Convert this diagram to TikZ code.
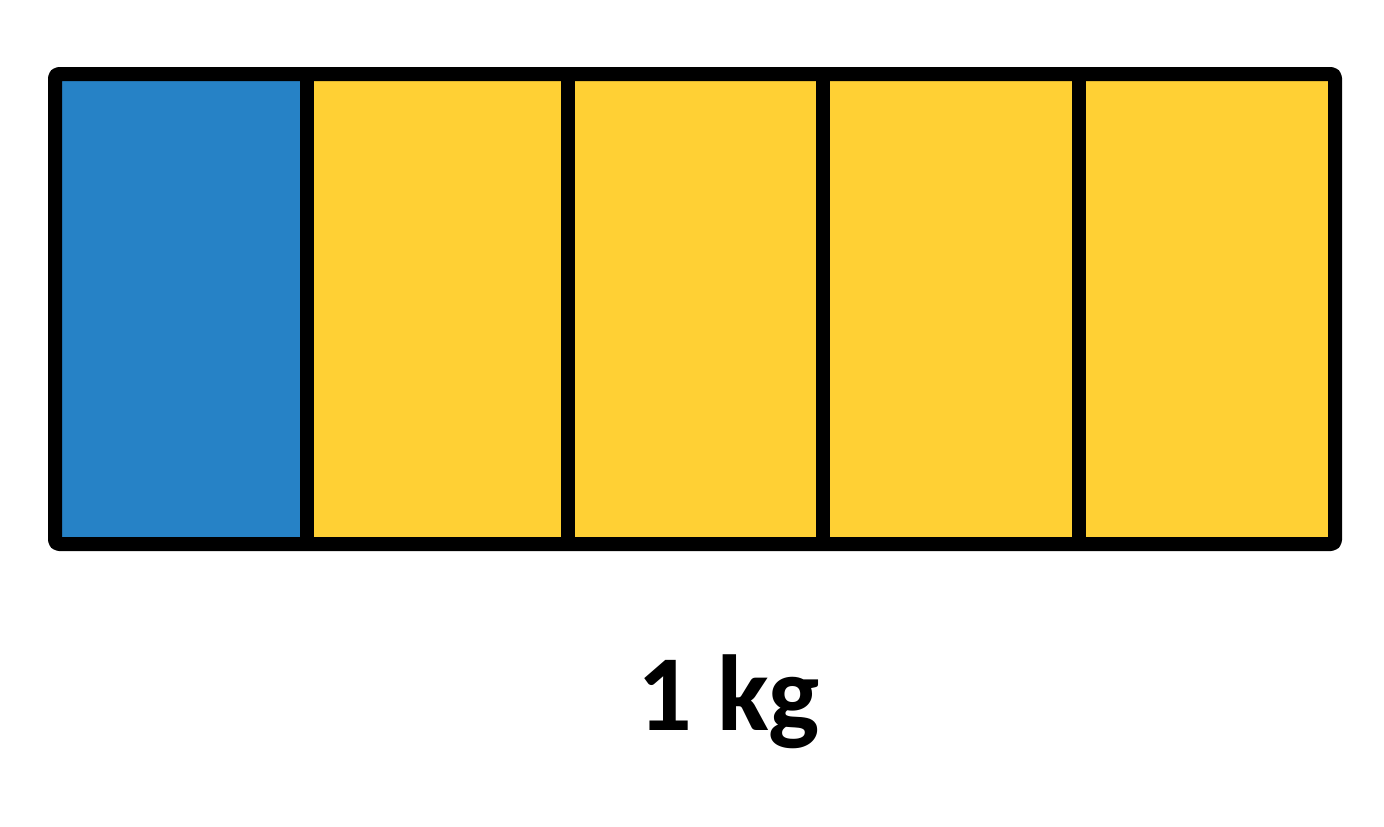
\documentclass[tikz,border=0pt]{standalone}
\usepackage{fontspec}
\newfontfamily\labelfont{Carlito}
\definecolor{barblue}{RGB}{38,130,198}
\definecolor{baryellow}{RGB}{255,208,52}
\begin{document}
\begin{tikzpicture}[x=1pt,y=-1pt,
  cell/.style={draw=none},
  divider/.style={line width=14pt,black},
  frame/.style={line width=14pt,black,rounded corners=4pt,line join=round},
  lbl/.style={font=\labelfont\bfseries\fontsize{108}{120}\selectfont,inner sep=0pt,anchor=base}]
\useasboundingbox (0,0) rectangle (1384,827);
\fill[barblue] (55,74) rectangle (307,544);
\fill[baryellow] (307,74) rectangle (1335,544);
\coordinate (d1t) at (307,81); \coordinate (d1b) at (307,537);
\coordinate (d2t) at (568,81); \coordinate (d2b) at (568,537);
\coordinate (d3t) at (823,81); \coordinate (d3b) at (823,537);
\coordinate (d4t) at (1079,81); \coordinate (d4b) at (1079,537);
\draw[divider] (d1t) -- (d1b);
\draw[divider] (d2t) -- (d2b);
\draw[divider] (d3t) -- (d3b);
\draw[divider] (d4t) -- (d4b);
\draw[frame] (55,74) rectangle (1335,544);
\node[lbl] (label) at (729,730) {1 kg};
\end{tikzpicture}
\end{document}
